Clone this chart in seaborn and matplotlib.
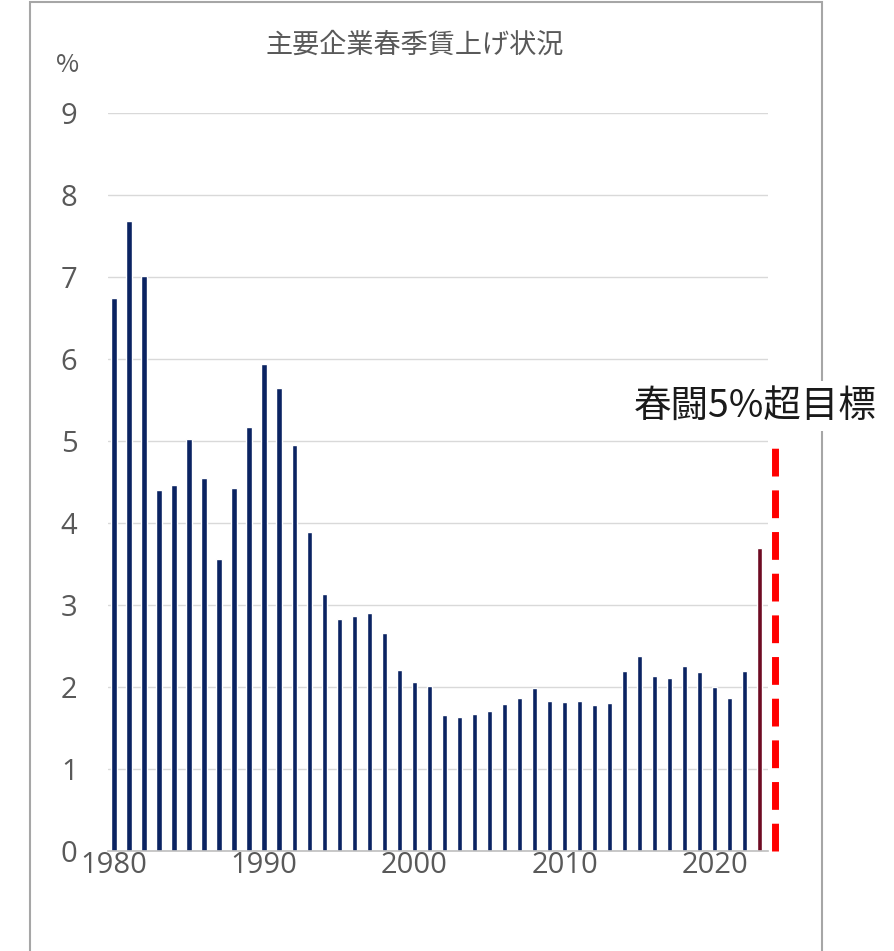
import matplotlib
matplotlib.use("Agg")
import matplotlib.pyplot as plt
import seaborn as sns
import pandas as pd
from matplotlib.patches import Rectangle

years = list(range(1980, 2024))
raises = [6.74, 7.68, 7.01, 4.40, 4.46, 5.03, 4.55, 3.56, 4.43, 5.17,
          5.94, 5.65, 4.95, 3.89, 3.13, 2.83, 2.86, 2.90, 2.66, 2.21,
          2.06, 2.01, 1.66, 1.63, 1.67, 1.71, 1.79, 1.87, 1.99, 1.83,
          1.82, 1.83, 1.78, 1.80, 2.19, 2.38, 2.14, 2.11, 2.26, 2.18,
          2.00, 1.86, 2.20, 3.70]
highlight = ["2023" if y == 2023 else "past" for y in years]
target_year = 2024
target_value = 5.0
title = "主要企業春季賃上げ状況"
target_label = "春闘5%超目標"
xticks = [1980, 1990, 2000, 2010, 2020]
yticks = list(range(0, 10))

sns.set_theme(style="white")
plt.rcParams['font.family'] = ['Noto Sans CJK JP', 'DejaVu Sans']

df = pd.DataFrame({"year": years, "raise": raises, "grp": highlight})

fig = plt.figure(figsize=(8.95, 9.51), dpi=100)
ax = fig.add_axes([108/895, 1-851/951, (768-108)/895, (851-113)/951])

sns.barplot(data=df, x="year", y="raise", hue="grp", native_scale=True,
            palette={"past": "#0b2362", "2023": "#6e0b22"}, width=0.36,
            legend=False, ax=ax, saturation=1, dodge=False)

ax.set_xlim(1979.6, 2023.55)
ax.set_ylim(0, 9)
ax.set_yticks(yticks)
ax.set_xticks(xticks)
ax.set_xticklabels([str(x) for x in xticks])
ax.yaxis.grid(True, color="#d9d9d9", linewidth=1.0)
ax.set_axisbelow(True)
for s in ["top", "right", "left"]:
    ax.spines[s].set_visible(False)
ax.spines["bottom"].set_color("#bfbfbf")
ax.spines["bottom"].set_linewidth(1.2)
ax.tick_params(axis="both", length=0, labelsize=21, labelcolor="#595959")
ax.tick_params(axis="y", pad=22)
ax.tick_params(axis="x", pad=0)
for lab in ax.get_xticklabels() + ax.get_yticklabels():
    lab.set_family(['Open Sans', 'DejaVu Sans'])
ax.set_xlabel("")
ax.set_ylabel("")

# target dashed line
ax.plot([target_year, target_year], [0, target_value], color="#ff0000",
        linestyle=(0, (4, 2)), linewidth=5, clip_on=False, zorder=5)

# border frame
fig.patches.append(Rectangle((30/895, -0.01), (822-30)/895, 1-2/951+0.01,
                             transform=fig.transFigure, fill=False,
                             edgecolor="#a6a6a6", linewidth=1.5, zorder=0))

fig.text(415/895, 1-45/951, title, ha="center", va="center",
         fontsize=19.5, color="#595959")
fig.text(68/895, 1-65/951, "%", ha="center", va="center",
         fontsize=18, color="#595959")

fig.text(755/895, 1-406/951, target_label, ha="center", va="center",
         fontsize=27, color="#1a1a1a",
         bbox=dict(facecolor="white", edgecolor="none", pad=4))

fig.savefig("out.png", dpi=100)
